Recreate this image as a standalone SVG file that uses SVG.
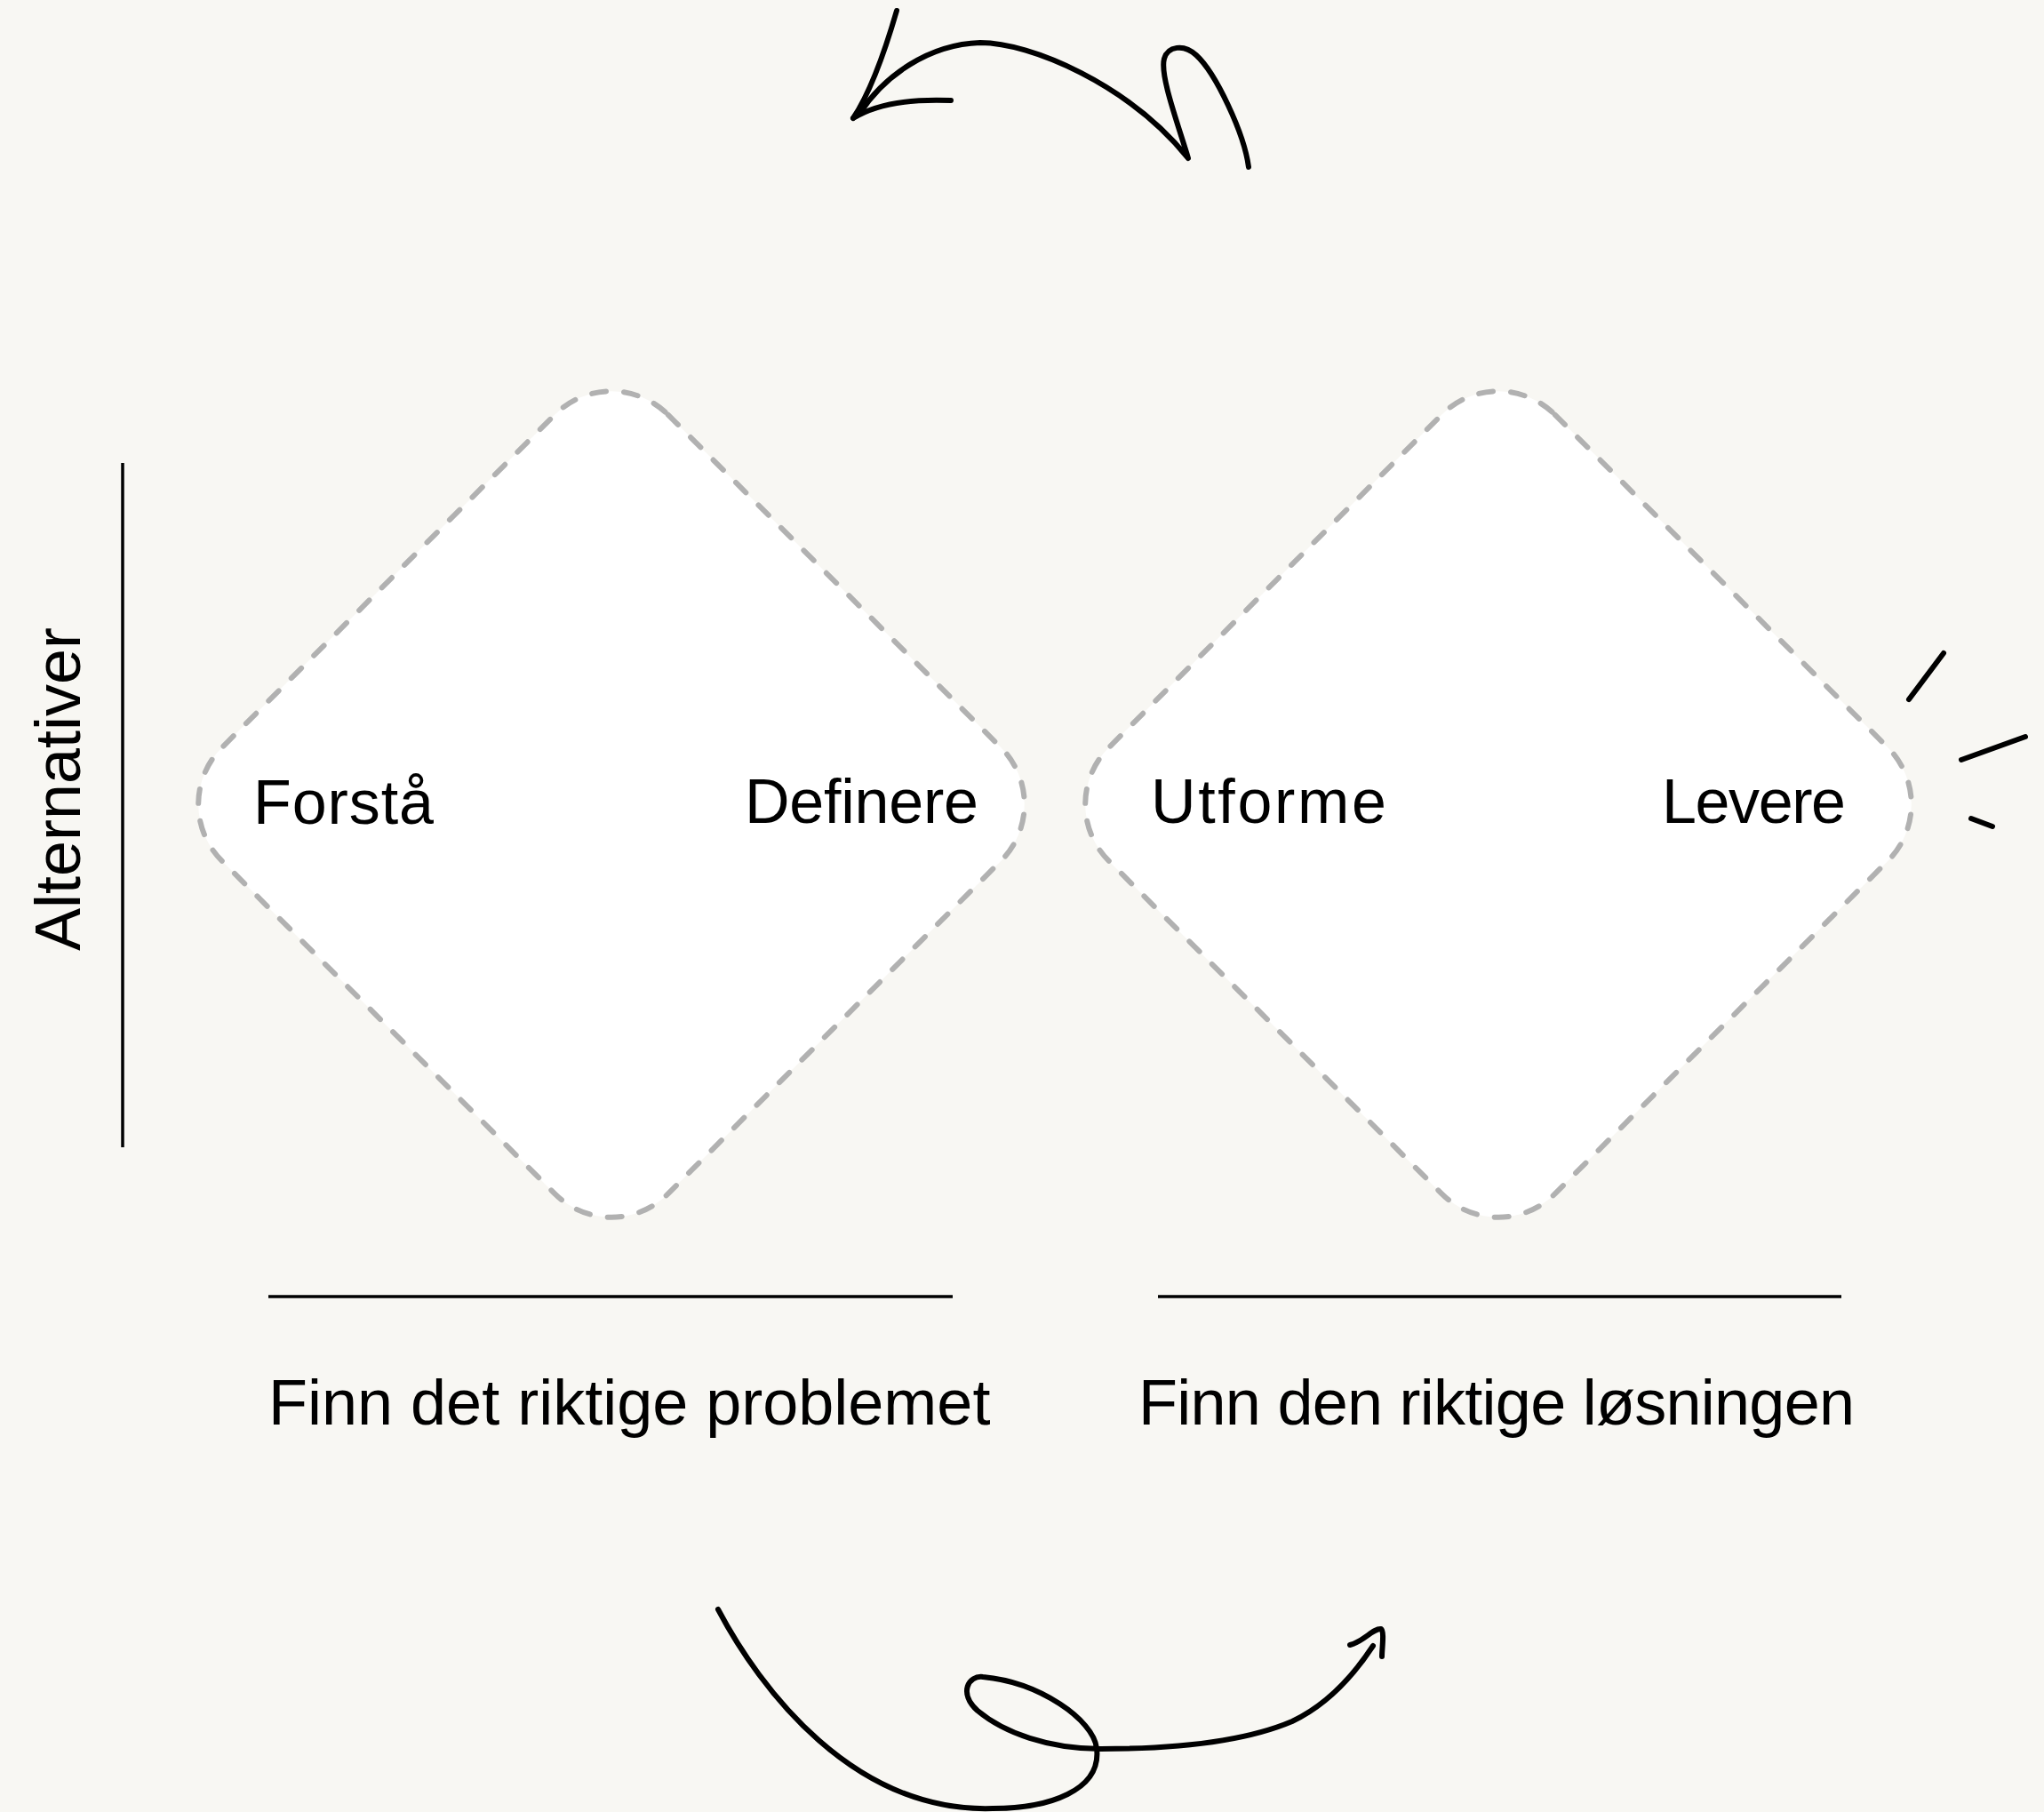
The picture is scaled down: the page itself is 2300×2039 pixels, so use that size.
<svg xmlns="http://www.w3.org/2000/svg" width="2300" height="2039" viewBox="0 0 2300 2039">
<style>
.bg{fill:#f8f7f3}
.dia{fill:#ffffff;stroke:#b1b1b1;stroke-width:6;stroke-dasharray:16 20;stroke-linecap:round}
.ink{fill:none;stroke:#000;stroke-width:6;stroke-linecap:round;stroke-linejoin:round}
.rule{stroke:#000;stroke-width:3.5}
.lbl{font-family:"Liberation Sans",Arial,sans-serif;font-size:70px;fill:#000}
.cap{font-family:"Liberation Sans",Arial,sans-serif;font-size:72px;fill:#000}
</style>
<rect class="bg" x="0" y="0" width="2300" height="2039"/>

<g id="axis">
  <line class="rule" x1="138" y1="521" x2="138" y2="1291"/>
  <text class="lbl" text-anchor="middle" transform="translate(90,888) rotate(-90)" style="font-size:72px">Alternativer</text>
</g>

<g id="diamond-problem">
  <rect class="dia" x="-355" y="-355" width="710" height="710" rx="90" transform="translate(688,905) rotate(45)"/>
  <text class="lbl" x="285" y="927" textLength="203" lengthAdjust="spacing">Forstå</text>
  <text class="lbl" x="838" y="926" textLength="263" lengthAdjust="spacing">Definere</text>
</g>

<g id="diamond-solution">
  <rect class="dia" x="-355" y="-355" width="710" height="710" rx="90" transform="translate(1686,905) rotate(45)"/>
  <text class="lbl" x="1295" y="926" textLength="265" lengthAdjust="spacing">Utforme</text>
  <text class="lbl" x="1870" y="926" textLength="207" lengthAdjust="spacing">Levere</text>
</g>

<g id="phase-problem">
  <line class="rule" x1="302" y1="1459" x2="1072" y2="1459"/>
  <text class="cap" x="302" y="1603">Finn det riktige problemet</text>
</g>

<g id="phase-solution">
  <line class="rule" x1="1303" y1="1459" x2="2072" y2="1459"/>
  <text class="cap" x="1281" y="1603" textLength="806" lengthAdjust="spacing">Finn den riktige løsningen</text>
</g>

<g id="connectors">
  <!-- top arrow -->
  <path class="ink" d="M1009,12 C998,50 982,100 960,133"/>
  <path class="ink" d="M960,133 Q997,110 1070,113"/>
  <path class="ink" d="M967,128 C995,85 1045,50 1103,48 C1160,48 1270,95 1337,178 C1325,138 1305,85 1310,66 C1314,52 1332,49 1346,62 C1368,82 1400,150 1405,188"/>
  <!-- bottom arrow -->
  <path class="ink" d="M808,1811 C855,1900 960,2040 1117,2035 C1180,2035 1240,2015 1234,1967 C1230,1935 1170,1893 1106,1887 C1090,1885 1078,1905 1100,1925 C1130,1950 1180,1968 1239,1968 C1320,1968 1400,1960 1454,1937 C1490,1920 1520,1890 1545,1852"/>
  <path class="ink" d="M1519,1851 C1535,1847 1545,1832 1554,1833 C1558,1836 1555,1855 1555,1864"/>
  <!-- sparkle -->
  <line class="ink" x1="2187" y1="735" x2="2148" y2="787"/>
  <line class="ink" x1="2279" y1="829" x2="2207" y2="855"/>
  <line class="ink" x1="2218" y1="921" x2="2242" y2="930"/>
</g>
</svg>
